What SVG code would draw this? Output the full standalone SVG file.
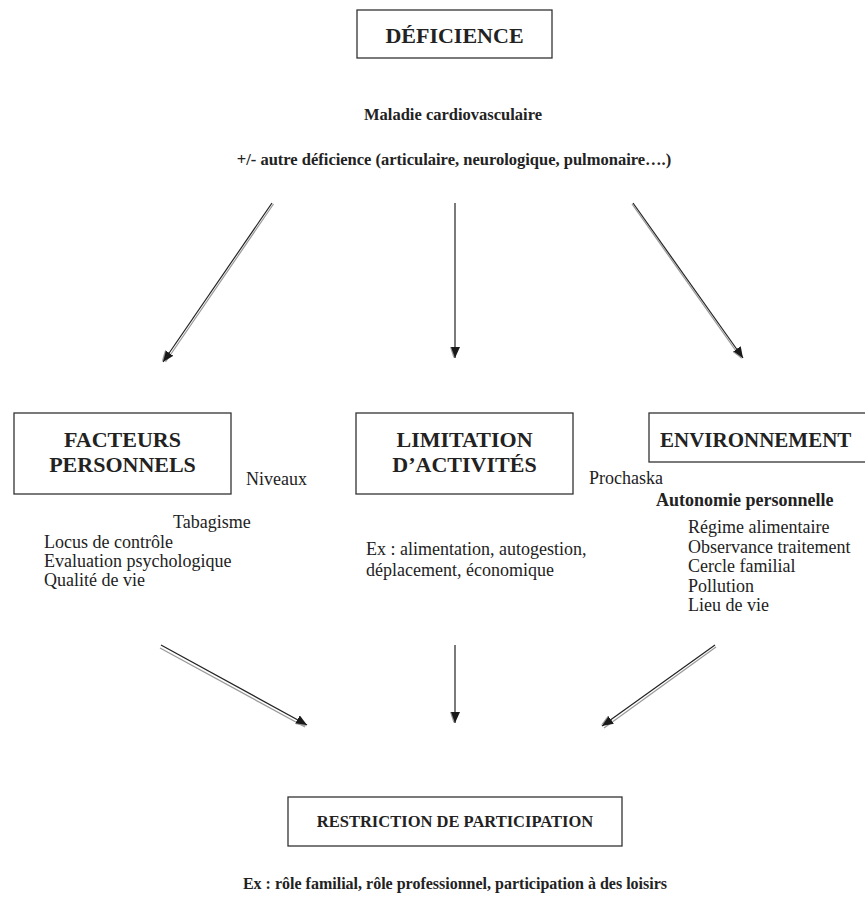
<svg xmlns="http://www.w3.org/2000/svg" width="865" height="903" viewBox="0 0 865 903" font-family="'Liberation Serif', 'Times New Roman', serif">
<style>
.box{fill:#fff;stroke:#333;stroke-width:1.3}
.t{fill:#222}
.h{font-size:22px;font-weight:bold}
.n{font-size:18px}
.b{font-size:18px;font-weight:bold}
.m{font-size:16.5px;font-weight:bold}
.r{font-size:16.5px;font-weight:bold}
.f{font-size:16px;font-weight:bold}
.ln{stroke:#222;stroke-width:1.2;fill:none}
.sh{stroke:#999;stroke-width:1.2;fill:none}
</style>
<defs>
<marker id="ah" viewBox="0 0 12 10" refX="11" refY="5" markerWidth="12" markerHeight="10" markerUnits="userSpaceOnUse" orient="auto">
<path d="M0,1.5 L11,6.5 L0,10 z" fill="#999"/>
<path d="M0,0 L11,5 L0,9 z" fill="#1a1a1a"/>
</marker>
</defs>
<g id="deficience">
<rect class="box" x="357" y="10" width="195" height="48"/>
<text class="t h" x="454.5" y="43" text-anchor="middle">DÉFICIENCE</text>
<text class="t m" x="453" y="120" text-anchor="middle">Maladie cardiovasculaire</text>
<text class="t m" x="454" y="165" text-anchor="middle">+/- autre déficience (articulaire, neurologique, pulmonaire….)</text>
</g>
<g id="facteurs">
<rect class="box" x="14" y="413" width="217" height="81"/>
<text class="t h" x="122.5" y="447" text-anchor="middle">FACTEURS</text>
<text class="t h" x="122.5" y="472" text-anchor="middle">PERSONNELS</text>
<text class="t n" x="246" y="485">Niveaux</text>
<text class="t n" x="173" y="528">Tabagisme</text>
<text class="t n" x="44" y="548">Locus de contrôle</text>
<text class="t n" x="44" y="567">Evaluation psychologique</text>
<text class="t n" x="44" y="586">Qualité de vie</text>
</g>
<g id="limitation">
<rect class="box" x="356" y="413" width="217" height="81"/>
<text class="t h" x="464.5" y="447" text-anchor="middle">LIMITATION</text>
<text class="t h" x="464.5" y="472" text-anchor="middle">D’ACTIVITÉS</text>
<text class="t n" x="589" y="484">Prochaska</text>
<text class="t n" x="366" y="555">Ex : alimentation, autogestion,</text>
<text class="t n" x="366" y="576">déplacement, économique</text>
</g>
<g id="environnement">
<rect class="box" x="649" y="413" width="230" height="49"/>
<text class="t h" x="660" y="447" style="font-size:21px">ENVIRONNEMENT</text>
<text class="t b" x="656" y="506">Autonomie personnelle</text>
<text class="t n" x="688" y="533">Régime alimentaire</text>
<text class="t n" x="688" y="553">Observance traitement</text>
<text class="t n" x="688" y="572">Cercle familial</text>
<text class="t n" x="688" y="592">Pollution</text>
<text class="t n" x="688" y="611">Lieu de vie</text>
</g>
<g id="restriction">
<rect class="box" x="288" y="797" width="334" height="49"/>
<text class="t r" x="455" y="827" text-anchor="middle">RESTRICTION DE PARTICIPATION</text>
<text class="t f" x="455" y="889" text-anchor="middle">Ex : rôle familial, rôle professionnel, participation à des loisirs</text>
</g>
<g id="connectors">
<line class="sh" x1="273.5" y1="204" x2="165.5" y2="362"/>
<line class="ln" x1="272" y1="203" x2="163" y2="362" marker-end="url(#ah)"/>
<line class="ln" x1="455" y1="203" x2="455" y2="358" marker-end="url(#ah)"/>
<line class="sh" x1="632" y1="204" x2="741" y2="358"/>
<line class="ln" x1="633" y1="203" x2="743" y2="358" marker-end="url(#ah)"/>
<line class="sh" x1="160" y1="648" x2="305" y2="727"/>
<line class="ln" x1="161" y1="645" x2="307" y2="725" marker-end="url(#ah)"/>
<line class="ln" x1="455" y1="645" x2="455" y2="723" marker-end="url(#ah)"/>
<line class="sh" x1="716" y1="647" x2="604" y2="728"/>
<line class="ln" x1="715" y1="645" x2="602" y2="726" marker-end="url(#ah)"/>
</g>
</svg>
